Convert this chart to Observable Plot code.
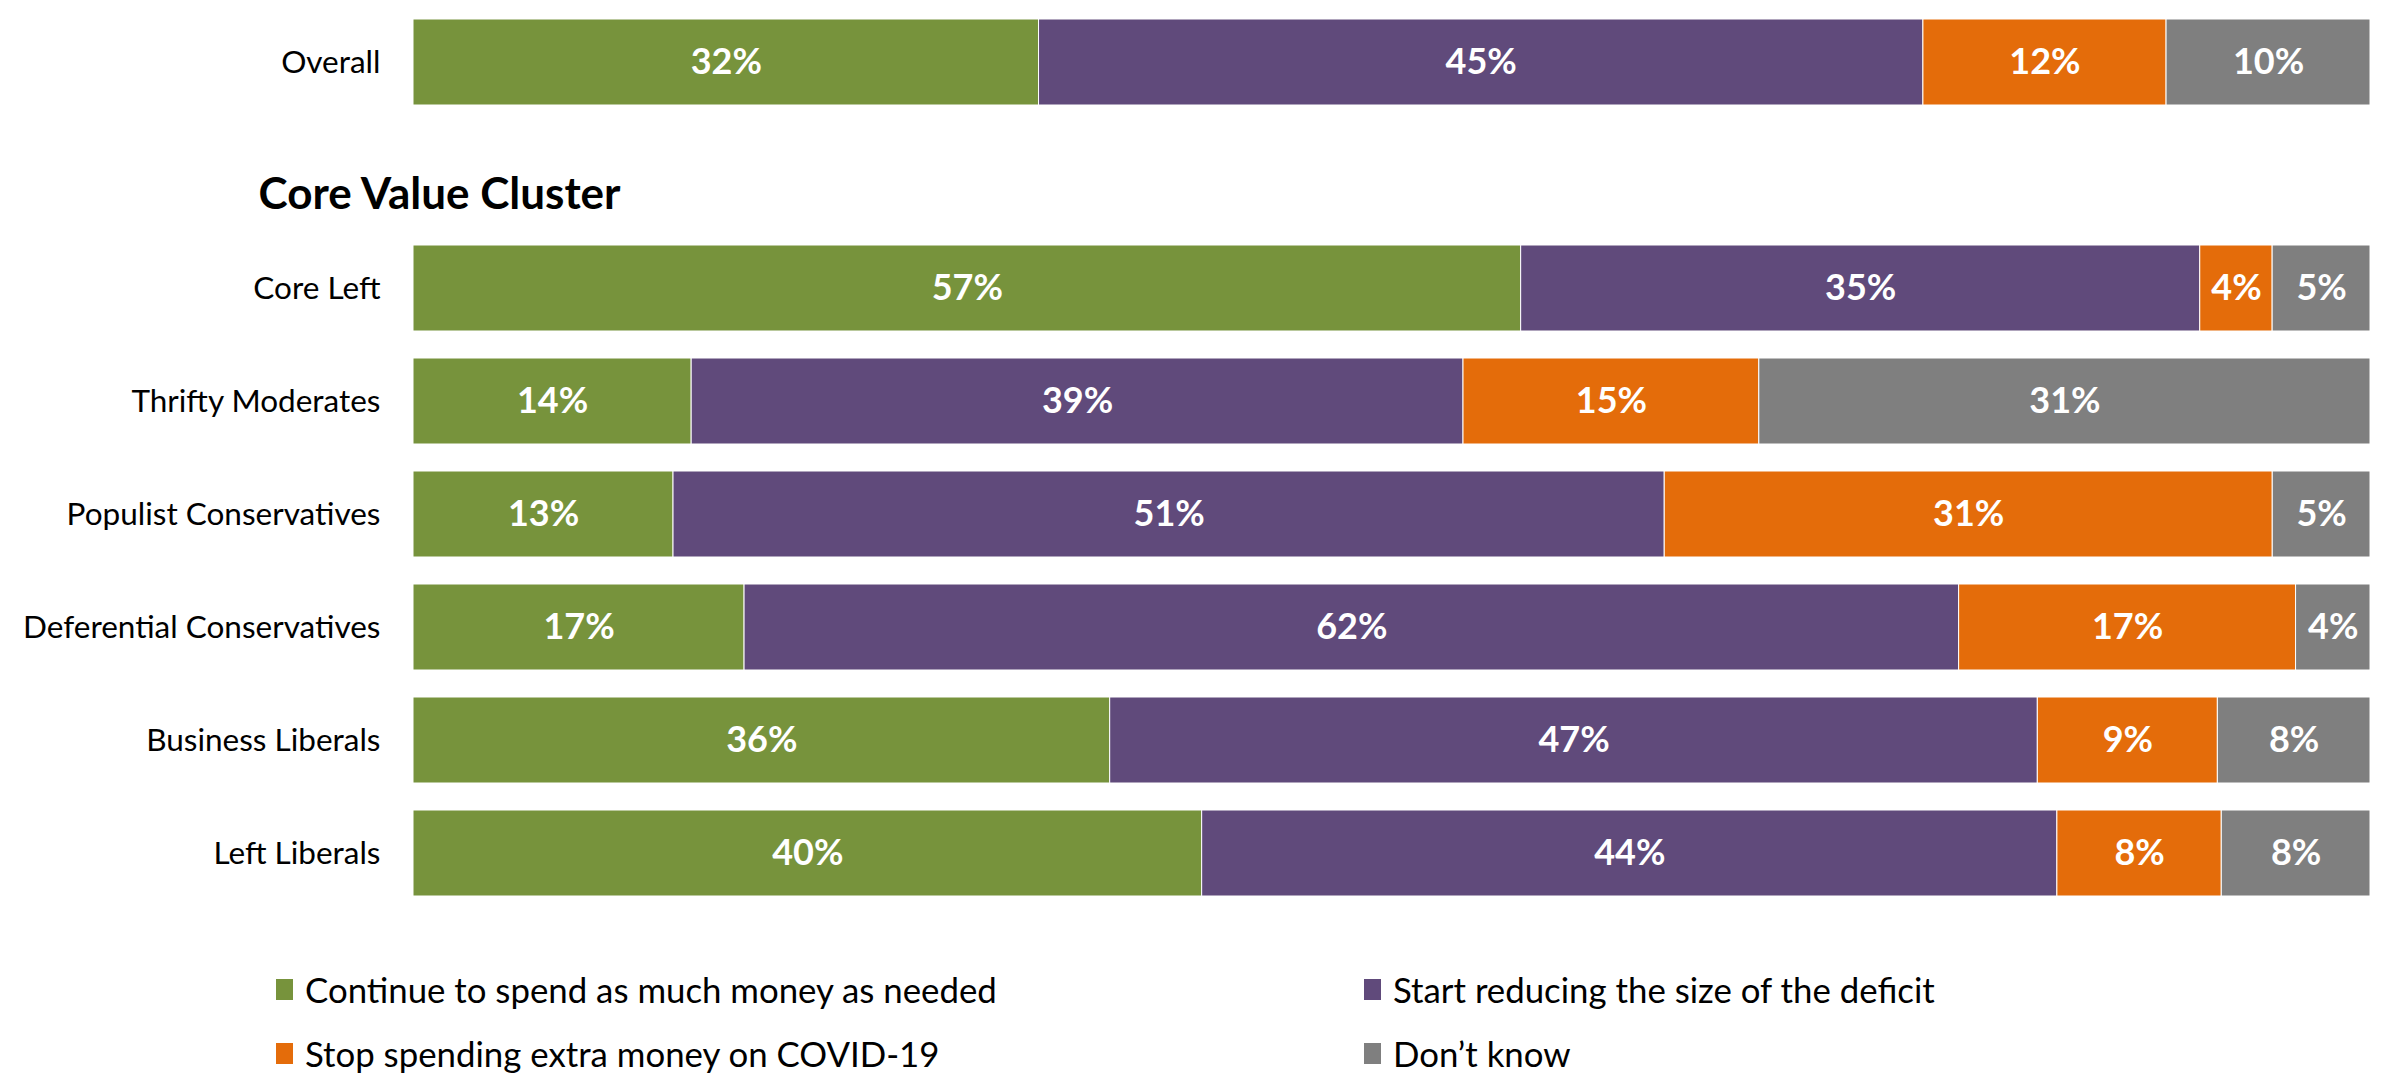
<!DOCTYPE html>
<html>
<head>
<meta charset="utf-8">
<script src="https://cdn.jsdelivr.net/npm/d3@7"></script>
<script src="https://cdn.jsdelivr.net/npm/@observablehq/plot@0.6"></script>
<style>
  html, body { margin: 0; padding: 0; background: white; }
  body { width: 2382px; height: 1074px; overflow: hidden; font-family: Lato, "Noto Sans", sans-serif; }
  #chart svg { display: block; }
  #legend { position: relative; width: 2382px; height: 158px; }
  .item { position: absolute; display: flex; align-items: center; font-size: 34.8px; color: #000; white-space: nowrap; }
  .sw { width: 17px; height: 21px; margin-right: 12px; flex: none; }
</style>
</head>
<body>
<div id="chart"></div>
<div id="legend"></div>
<script>
const categories = ["Overall", "Core Left", "Thrifty Moderates", "Populist Conservatives", "Deferential Conservatives", "Business Liberals", "Left Liberals"];
const responses = ["Continue to spend as much money as needed", "Start reducing the size of the deficit", "Stop spending extra money on COVID-19", "Don\u2019t know"];
// shares (labels show them rounded)
const spend    = [31.9, 56.6, 14.2, 13.3, 16.9, 35.6, 40.3];
const reduce   = [45.1, 34.7, 39.4, 50.7, 62.0, 47.4, 43.7];
const stop     = [12.4,  3.7, 15.1, 31.1, 17.2,  9.2,  8.4];
const dontKnow = [10.4,  5.0, 31.2,  5.0,  3.8,  7.8,  7.6];
const colors = ["#77933C", "#604A7B", "#E46C0A", "#7F7F7F"];
const sectionTitle = "Core Value Cluster";
const gap = "__gap__";

const series = [spend, reduce, stop, dontKnow];
const data = [];
categories.forEach((c, i) => series.forEach((s, j) => data.push({cat: c, resp: responses[j], value: s[i]})));
const yDomain = [categories[0], gap, ...categories.slice(1)];
const axisRows = categories.map(c => ({cat: c}));

const chart = Plot.plot({
  width: 2382,
  height: 916,
  marginLeft: 413,
  marginRight: 12,
  marginTop: 0,
  marginBottom: 0,
  x: {axis: null, domain: [0, 1]},
  y: {domain: yDomain, paddingInner: 0.236, paddingOuter: 0.16, tickSize: 0, tickPadding: 33,
      tickFormat: d => d === gap ? "" : d, label: null},
  color: {domain: responses, range: colors},
  style: {fontFamily: "Lato, 'Noto Sans', sans-serif", fontSize: "31.5px", color: "black", background: "white"},
  marks: [
    Plot.barX(data, Plot.stackX({x: "value", y: "cat", z: "resp", order: responses, offset: "normalize",
      fill: "resp", stroke: "white", strokeWidth: 1})),
    Plot.text(data, Plot.stackX({x: "value", y: "cat", z: "resp", order: responses, offset: "normalize",
      text: d => Math.round(d.value) + "%", fill: "white", fontWeight: "bold", fontSize: 36})),
    Plot.ruleX(axisRows.slice(0, 1), {x: 0, y: "cat", stroke: "#404040", strokeWidth: 1.3, insetTop: -13.4, insetBottom: -58}),
    Plot.ruleX(axisRows.slice(1, 2), {x: 0, y: "cat", stroke: "#404040", strokeWidth: 1.3, insetTop: -22, insetBottom: -13.4}),
    Plot.ruleX(axisRows.slice(2), {x: 0, y: "cat", stroke: "#404040", strokeWidth: 1.3, insetTop: -13.4, insetBottom: -13.4}),
    Plot.text([sectionTitle], {y: () => gap, text: d => d, frameAnchor: "left", textAnchor: "start",
      dx: -155, dy: 19, fontWeight: "bold", fontSize: 44, fill: "black"})
  ]
});
document.getElementById("chart").appendChild(chart);

const legend = document.getElementById("legend");
const pos = [[276, 73], [1364, 73], [276, 137], [1364, 137]];
responses.forEach((r, i) => {
  const el = document.createElement("div");
  el.className = "item";
  el.style.left = pos[i][0] + "px";
  el.style.top = (pos[i][1] - 24) + "px";
  el.style.height = "48px";
  const sw = document.createElement("span");
  sw.className = "sw";
  sw.style.background = colors[i];
  el.appendChild(sw);
  el.appendChild(document.createTextNode(r));
  legend.appendChild(el);
});
</script>
</body>
</html>
